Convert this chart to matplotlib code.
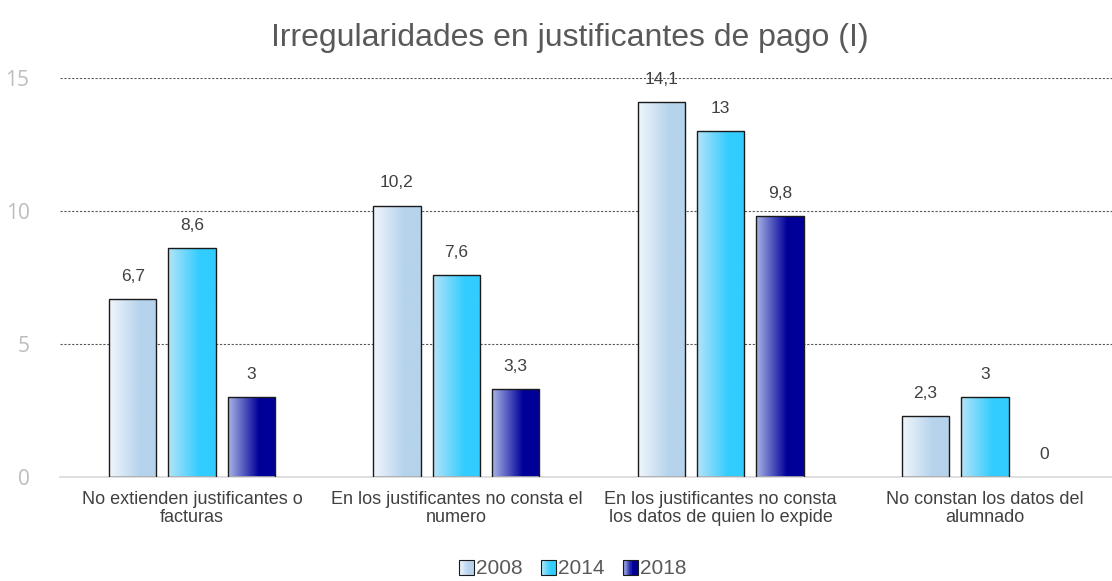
import matplotlib
matplotlib.use("Agg")
import matplotlib.pyplot as plt
import numpy as np
from matplotlib.colors import LinearSegmentedColormap
from matplotlib.patches import Rectangle
from matplotlib.legend_handler import HandlerBase

categories = ["No extienden justificantes o\nfacturas",
              "En los justificantes no consta el\nnumero",
              "En los justificantes no consta\nlos datos de quien lo expide",
              "No constan los datos del\nalumnado"]
series_names = ["2008", "2014", "2018"]
values_2008 = [6.7, 10.2, 14.1, 2.3]
values_2014 = [8.6, 7.6, 13, 3]
values_2018 = [3, 3.3, 9.8, 0]
yticks = [0, 5, 10, 15]

series_values = [values_2008, values_2014, values_2018]
grad_colors = [("#f0f6fc", "#b6d3ec"), ("#b5e4f8", "#33ccff"), ("#aab6e6", "#000099")]
cmaps = [LinearSegmentedColormap.from_list("g%d" % i, [(0, c0), (0.65, c1), (1, c1)])
         for i, (c0, c1) in enumerate(grad_colors)]

plt.rcParams['font.family'] = ['Liberation Sans', 'DejaVu Sans']

fig = plt.figure(figsize=(11.12, 5.81), dpi=100)
ax = fig.add_axes([60/1112, 104/581, 1057/1112, 399/581])

width = 0.179
step = 0.225
x = np.arange(len(categories))
grad = np.linspace(0, 1, 256).reshape(1, -1)

for si, vals in enumerate(series_values):
    offs = (si - 1) * step
    bars = ax.bar(x + offs, vals, width=width, color="none", edgecolor="#1a1a1a",
                  linewidth=1.0, zorder=3)
    for b, v in zip(bars, vals):
        if v > 0:
            x0 = b.get_x()
            im = ax.imshow(grad, cmap=cmaps[si], aspect="auto",
                           extent=(x0, x0 + b.get_width(), 0, v), zorder=2,
                           interpolation="bilinear")
            im.set_clip_path(b)
        else:
            b.set_linewidth(0)
        lab = ("%g" % v).replace(".", ",")
        ax.annotate(lab, (b.get_x() + b.get_width() / 2, v), xytext=(0, 11),
                    textcoords="offset points", ha="center", va="bottom",
                    fontsize=12.5, color="#404040")

ax.set_xlim(-0.5, len(categories) - 0.5)
ax.set_ylim(0, 15)
ax.set_yticks(yticks)
ax.set_yticklabels([str(t) for t in yticks], fontsize=15, color="#bdbdbd",
                   family=['Open Sans', 'DejaVu Sans'])
ax.set_xticks(x)
ax.set_xticklabels(categories, fontsize=13, color="#404040", linespacing=1.1)
ax.tick_params(axis="both", length=0)
ax.tick_params(axis="y", pad=22)
ax.tick_params(axis="x", pad=10)
for s in ["top", "right", "left"]:
    ax.spines[s].set_visible(False)
ax.spines["bottom"].set_color("#d9d9d9")
ax.spines["bottom"].set_linewidth(1.2)
for t in yticks[1:]:
    ax.axhline(t, color="#595959", linestyle=(0, (2, 1.5)), linewidth=0.8, zorder=1)

fig.text(0.512, 1 - 38/581, "Irregularidades en justificantes de pago (I)", ha="center",
         va="center", fontsize=23, color="#595959")


class GradHandler(HandlerBase):
    def __init__(self, cmap):
        super().__init__()
        self.cmap = cmap

    def create_artists(self, legend, orig_handle, xdescent, ydescent, width, height,
                       fontsize, trans):
        side = min(width, height)
        x0 = -xdescent + width - side
        y0 = -ydescent + (height - side) / 2
        arts = []
        n = 12
        for i in range(n):
            r = Rectangle((x0 + side * i / n, y0), side / n + 0.01, side,
                          facecolor=self.cmap((i + 0.5) / n), edgecolor="none", transform=trans)
            arts.append(r)
        arts.append(Rectangle((x0, y0), side, side, facecolor="none", edgecolor="#1a1a1a",
                              linewidth=0.8, transform=trans))
        return arts


handles = [Rectangle((0, 0), 1, 1) for _ in series_names]
leg = fig.legend(handles, series_names, loc="center", bbox_to_anchor=(0.515, 1 - 569/581),
                 ncol=3, frameon=False, fontsize=15, handlelength=0.7, handleheight=0.7,
                 handletextpad=0.1, columnspacing=0.9,
                 handler_map={h: GradHandler(c) for h, c in zip(handles, cmaps)})
for t in leg.get_texts():
    t.set_color("#595959")

fig.savefig("out.png", dpi=100)
